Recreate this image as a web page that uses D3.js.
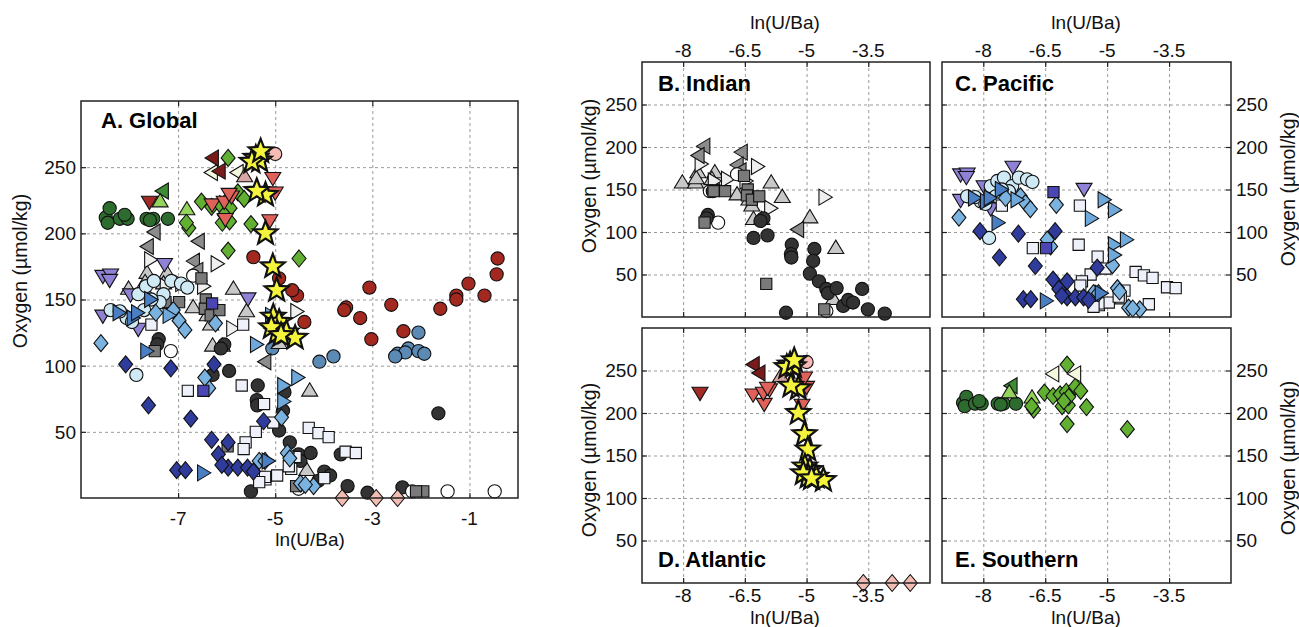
<!DOCTYPE html>
<html>
<head>
<meta charset="utf-8">
<script src="https://cdn.jsdelivr.net/npm/d3@7"></script>
<style>
  body { margin: 0; background: #fff; }
  svg { font-family: "Liberation Sans", Arial, Helvetica, sans-serif; }
  .grid line { stroke: #9a9a9a; stroke-dasharray: 3,3; }
  .grid path { display: none; }
</style>
</head>
<body>
<div id="chart"></div>
<script>
// Tick values
const xTicksGlobal = [-7, -5, -3, -1]
const xTicksBasin = [-8, -6.5, -5, -3.5]
const yTicks = [50, 100, 150, 200, 250]

// Indian ocean (panel B)
const indianDark = [[-7.40,120],[-7.43,116],[-6.29,93],[-5.95,96],[-6.05,116],[-6.12,113],[-5.36,85],[-5.38,74],[-5.37,70],
  [-4.81,80],[-4.84,66],[-4.92,51],[-4.70,42],[-4.52,33],[-4.48,28],[-4.27,34],[-4.11,13],[-3.99,20],[-3.87,17],
  [-3.65,33],[-3.51,9],[-5.50,5],[-3.10,4],[-7.28,148]]
const indianGrayLeft = [[-7.48,201],[-7.62,190],[-6.57,194],[-6.67,179],[-6.60,172],[-5.20,103]]
const indianGrayUp = [[-8.02,158],[-7.70,158],[-7.64,170],[-7.23,170],[-7.68,163],[-6.69,144],[-6.57,168],[-6.33,131],
  [-6.40,138],[-6.29,115],[-6.09,115],[-5.86,158],[-5.59,141],[-4.92,117],[-4.29,81],[-4.35,21],[-7.30,162]]
const indianWhiteRight = [[-6.21,177],[-4.57,141],[-5.89,128],[-6.94,162],[-7.58,180],[-6.49,160],[-7.26,160]]
const indianGraySquares = [[-7.26,148],[-6.98,148],[-6.43,150],[-6.45,143],[-6.33,138],[-6.15,142],[-7.48,111],
  [-5.98,39],[-4.57,9],[-6.52,166]]
const indianWhiteCircles = [[-7.15,111],[-4.52,7],[-6.69,168],[-7.35,148]]

// Pacific ocean (panel C)
const pacificPurpleDown = [[-8.55,168],[-8.39,169],[-8.41,165],[-7.28,177],[-5.56,151],[-8.55,138],[-7.98,154],[-7.82,128]]
const pacificCyanCircles = [[-8.39,142],[-8.06,136],[-7.82,154],[-7.66,160],[-7.50,164],[-7.30,154],[-7.14,164],[-6.94,162],
  [-6.81,159],[-7.86,93],[-7.70,142],[-7.38,148],[-8.20,141],[-7.55,150],[-7.95,133]]
const pacificBlueRight = [[-8.23,140],[-7.94,136],[-7.58,150],[-7.66,111],[-6.49,19],[-5.16,28],[-7.85,140]]
const pacificLightRight = [[-5.09,138],[-4.84,126],[-5.40,116],[-4.84,85],[-4.55,91],[-4.84,73],[-7.20,138]]
const pacificLightDiamonds = [[-8.59,117],[-7.46,140],[-7.10,142],[-6.98,134],[-6.86,127],[-6.23,132],[-6.37,83],[-6.45,91],
  [-4.87,61],[-4.75,34],[-4.48,11],[-4.21,9],[-5.33,28],[-5.21,28],[-4.70,30],[-4.38,10]]
const pacificDarkDiamonds = [[-8.08,101],[-7.61,70],[-7.15,98],[-6.74,60],[-6.26,101],[-6.31,44],[-5.97,42],[-6.17,33],
  [-7.03,21],[-6.85,21],[-5.97,23],[-5.77,23],[-5.57,23],[-5.24,58],[-6.10,25],[-5.45,20]]
const pacificDarkSquares = [[-6.30,147],[-6.48,81]]
const pacificWhiteSquares = [[-5.66,131],[-6.80,81],[-5.69,85],[-5.23,71],[-5.04,57],[-5.40,50],[-5.61,42],[-5.65,37],
  [-4.58,31],[-4.31,53],[-4.11,49],[-3.90,46],[-3.55,35],[-3.34,34],[-3.99,15],[-5.32,16],[-5.20,14],[-4.96,17],
  [-4.67,22],[-5.21,16],[-5.33,12],[-4.72,24],[-7.55,131]]

// Atlantic ocean (panel D)
const atlanticDarkRedLeft = [[-6.28,257],[-6.14,247]]
const atlanticDarkRedDown = [[-7.59,224]]
const atlanticSalmonDown = [[-6.30,222],[-6.03,211],[-6.05,224],[-5.90,228],[-5.14,231],[-5.11,210],[-5.00,231],[-5.05,242],[-5.95,230]]
const atlanticPinkCircle = [[-5.00,260]]
const atlanticPinkUp = [[-5.63,243]]
const atlanticPinkDiamonds = [[-3.62,0],[-2.92,0],[-2.48,0]]
const atlanticStars = [[-5.40,257],[-5.32,255],[-5.48,254],[-5.30,262],[-5.20,229],[-5.38,232],[-5.20,200],[-5.05,175],
  [-4.97,157],[-5.04,137],[-4.92,133],[-4.96,125],[-4.77,125],[-4.59,121],[-5.08,129],[-4.88,123]]

// Southern ocean (panel E)
const southernDarkGreen = [[-8.49,212],[-8.41,219],[-8.45,208],[-8.20,211],[-8.04,211],[-7.65,211],[-7.51,211],[-7.21,211],[-8.10,214],[-7.58,210]]
const southernGreenLeft = [[-7.31,232]]
const southernLightGreenUp = [[-7.37,224],[-6.82,218]]
const southernGreenDiamonds = [[-5.97,257],[-6.52,224],[-6.31,220],[-6.14,222],[-5.99,225],[-5.77,231],[-5.64,226],[-6.09,208],
  [-5.94,209],[-5.50,207],[-5.97,187],[-4.51,181],[-6.78,204],[-6.83,208],[-5.93,219],[-6.05,214]]
const southernCreamLeft = [[-6.30,246],[-5.77,246]]

// Only in the global panel
const otherDarkRed = [[-3.06,159],[-1.02,162],[-0.44,169],[-0.42,181],[-1.27,153],[-0.69,153],[-4.55,153],[-1.27,150],
  [-3.54,144],[-3.58,142],[-2.61,146],[-1.60,143],[-3.25,136],[-4.40,133],[-3.02,120],[-2.36,126],[-5.45,182],[-4.92,166],[-4.65,157]]
const otherSteelBlue = [[-2.05,125],[-2.26,113],[-2.48,109],[-2.32,110],[-2.05,111],[-1.93,109],[-2.53,107],[-3.80,107],[-4.09,103],[-5.06,113]]
const otherDark = [[-1.64,64],[-2.38,8]]
const otherGraySquares = [[-1.95,5],[-2.10,5]]
const otherWhiteCircles = [[-2.18,5],[-1.45,5],[-0.48,5]]

// Series table: data + basin + marker style
const series = [
  {data: otherSteelBlue, basin: null, shape: "circle", fill: "#5b8ab5"},
  {data: otherDarkRed, basin: null, shape: "circle", fill: "#a3281f"},
  {data: otherDark, basin: null, shape: "circle", fill: "#333333"},
  {data: otherWhiteCircles, basin: null, shape: "circle", fill: "#ffffff"},
  {data: otherGraySquares, basin: null, shape: "square", fill: "#7a7a7a"},
  {data: southernDarkGreen, basin: "E", shape: "circle", fill: "#2e6b2e"},
  {data: southernGreenLeft, basin: "E", shape: "left", fill: "#3d8d35"},
  {data: southernLightGreenUp, basin: "E", shape: "up", fill: "#95d45c"},
  {data: southernGreenDiamonds, basin: "E", shape: "diamond", fill: "#62b032"},
  {data: southernCreamLeft, basin: "E", shape: "left", fill: "#f3f8df"},
  {data: indianGrayUp, basin: "B", shape: "up", fill: "#c8c8c8"},
  {data: indianWhiteRight, basin: "B", shape: "right", fill: "#efefef"},
  {data: indianGrayLeft, basin: "B", shape: "left", fill: "#8c8c8c"},
  {data: indianWhiteCircles, basin: "B", shape: "circle", fill: "#ffffff"},
  {data: indianDark, basin: "B", shape: "circle", fill: "#333333"},
  {data: indianGraySquares, basin: "B", shape: "square", fill: "#7a7a7a"},
  {data: pacificPurpleDown, basin: "C", shape: "down", fill: "#8f82d6"},
  {data: pacificCyanCircles, basin: "C", shape: "circle", fill: "#cfe9f5"},
  {data: pacificWhiteSquares, basin: "C", shape: "square", fill: "#eef1fa"},
  {data: pacificLightDiamonds, basin: "C", shape: "diamond", fill: "#7ab2e0"},
  {data: pacificBlueRight, basin: "C", shape: "right", fill: "#4a7fc4"},
  {data: pacificLightRight, basin: "C", shape: "right", fill: "#6fa9dc"},
  {data: pacificDarkDiamonds, basin: "C", shape: "diamond", fill: "#2f3c9c"},
  {data: pacificDarkSquares, basin: "C", shape: "square", fill: "#4b46b4"},
  {data: atlanticPinkDiamonds, basin: "D", shape: "diamond", fill: "#f3bcb3"},
  {data: atlanticDarkRedDown, basin: "D", shape: "down", fill: "#a32b26"},
  {data: atlanticDarkRedLeft, basin: "D", shape: "left", fill: "#7a1b1b"},
  {data: atlanticSalmonDown, basin: "D", shape: "down", fill: "#e0605a"},
  {data: atlanticPinkUp, basin: "D", shape: "up", fill: "#d8a7a3"},
  {data: atlanticPinkCircle, basin: "D", shape: "circle", fill: "#f5bbb4"},
  {data: atlanticStars, basin: "D", shape: "star", fill: "#f4f43c"},
]

// Panel layout
const panels = [
  {id: "A", title: "A. Global", x0: 81, x1: 518, y0: 101, y1: 498, xDomain: [-9, 0], xTicks: xTicksGlobal,
   yLabelSide: "left", titleX: 101, titleY: 128,
   tickLabelY: 525, axisTitleY: 546, axisTitleX: 310, yTitleX: 20, yTitleY: 271},
  {id: "B", title: "B. Indian", x0: 642, x1: 930, y0: 62, y1: 317, xDomain: [-9, -2], xTicks: xTicksBasin,
   yLabelSide: "left", titleX: 658, titleY: 91,
   tickLabelY: 57, axisTitleY: 29, axisTitleX: 785, yTitleX: 589, yTitleY: 176},
  {id: "C", title: "C. Pacific", x0: 942, x1: 1231, y0: 62, y1: 317, xDomain: [-9, -2], xTicks: xTicksBasin,
   yLabelSide: "right", titleX: 955, titleY: 91,
   tickLabelY: 57, axisTitleY: 29, axisTitleX: 1086, yTitleX: 1288, yTitleY: 189},
  {id: "D", title: "D. Atlantic", x0: 642, x1: 930, y0: 328, y1: 583, xDomain: [-9, -2], xTicks: xTicksBasin,
   yLabelSide: "left", titleX: 658, titleY: 567,
   tickLabelY: 602, axisTitleY: 624, axisTitleX: 785, yTitleX: 589, yTitleY: 460},
  {id: "E", title: "E. Southern", x0: 942, x1: 1231, y0: 328, y1: 583, xDomain: [-9, -2], xTicks: xTicksBasin,
   yLabelSide: "right", titleX: 955, titleY: 567,
   tickLabelY: 602, axisTitleY: 624, axisTitleX: 1086, yTitleX: 1288, yTitleY: 458},
]

function markerPath(shape) {
  let p = d3.path()
  switch(shape) {
    case "circle":
      p.arc(0, 0, 6.6, 0, 2 * Math.PI); break
    case "square":
      p.rect(-5.6, -5.6, 11.2, 11.2); break
    case "diamond":
      p.moveTo(0, -8.5); p.lineTo(7, 0); p.lineTo(0, 8.5); p.lineTo(-7, 0); p.closePath(); break
    case "up":
      p.moveTo(0, -8); p.lineTo(8, 5.3); p.lineTo(-8, 5.3); p.closePath(); break
    case "down":
      p.moveTo(0, 8); p.lineTo(8, -5.3); p.lineTo(-8, -5.3); p.closePath(); break
    case "left":
      p.moveTo(-8, 0); p.lineTo(5.3, -8); p.lineTo(5.3, 8); p.closePath(); break
    case "right":
      p.moveTo(8, 0); p.lineTo(-5.3, -8); p.lineTo(-5.3, 8); p.closePath(); break
    case "star":
      for(let i = 0; i < 10; i++) {
        let r = i % 2 == 0 ? 12.5 : 5.3
        let a = -Math.PI / 2 + i * Math.PI / 5
        if(i == 0) p.moveTo(r * Math.cos(a), r * Math.sin(a))
        else p.lineTo(r * Math.cos(a), r * Math.sin(a))
      }
      p.closePath(); break
  }
  return p.toString()
}

const svg = d3.select("#chart").append("svg")
  .attr("width", 1299)
  .attr("height", 627)

panels.forEach(function(cfg) {
  let x = d3.scaleLinear().domain(cfg.xDomain).range([cfg.x0, cfg.x1])
  let y = d3.scaleLinear().domain([0, 300]).range([cfg.y1, cfg.y0])
  let w = cfg.x1 - cfg.x0
  let h = cfg.y1 - cfg.y0
  let g = svg.append("g").attr("class", "panel-" + cfg.id)

  // Dashed grid
  g.append("g").attr("class", "grid")
    .attr("transform", "translate(0," + cfg.y1 + ")")
    .call(d3.axisBottom(x).tickValues(cfg.xTicks).tickSize(-h).tickFormat(""))
  g.append("g").attr("class", "grid")
    .attr("transform", "translate(" + cfg.x0 + ",0)")
    .call(d3.axisLeft(y).tickValues(yTicks).tickSize(-w).tickFormat(""))

  // Inward ticks on all four sides
  let tickStyle = function(sel) {
    sel.select(".domain").remove()
    sel.selectAll("line").attr("stroke", "#222").attr("stroke-width", 1.2)
  }
  g.append("g").attr("transform", "translate(0," + cfg.y1 + ")")
    .call(d3.axisBottom(x).tickValues(cfg.xTicks).tickSize(-5).tickFormat("")).call(tickStyle)
  g.append("g").attr("transform", "translate(0," + cfg.y0 + ")")
    .call(d3.axisTop(x).tickValues(cfg.xTicks).tickSize(-5).tickFormat("")).call(tickStyle)
  g.append("g").attr("transform", "translate(" + cfg.x0 + ",0)")
    .call(d3.axisLeft(y).tickValues(yTicks).tickSize(-5).tickFormat("")).call(tickStyle)
  g.append("g").attr("transform", "translate(" + cfg.x1 + ",0)")
    .call(d3.axisRight(y).tickValues(yTicks).tickSize(-5).tickFormat("")).call(tickStyle)

  // Markers
  let shown = series.filter(function(s) { return cfg.id == "A" ? true : s.basin == cfg.id })
  shown.forEach(function(s) {
    g.append("g").selectAll("path").data(s.data).enter().append("path")
      .attr("d", markerPath(s.shape))
      .attr("transform", function(d) { return "translate(" + x(d[0]) + "," + y(d[1]) + ")" })
      .attr("fill", s.fill)
      .attr("stroke", "#111")
      .attr("stroke-width", s.shape == "star" ? 2.2 : 1.1)
      .attr("stroke-linejoin", "miter")
  })

  // Frame
  g.append("rect")
    .attr("x", cfg.x0).attr("y", cfg.y0).attr("width", w).attr("height", h)
    .attr("fill", "none").attr("stroke", "#222").attr("stroke-width", 1.5)

  // Tick labels
  g.selectAll("text.xtick").data(cfg.xTicks).enter().append("text")
    .attr("class", "xtick")
    .attr("x", function(d) { return x(d) })
    .attr("y", cfg.tickLabelY)
    .attr("text-anchor", "middle")
    .attr("font-size", 19)
    .attr("fill", "#111")
    .text(function(d) { return String(d) })

  let left = cfg.yLabelSide == "left"
  g.selectAll("text.ytick").data(yTicks).enter().append("text")
    .attr("class", "ytick")
    .attr("x", left ? cfg.x0 - 5 : cfg.x1 + 5)
    .attr("y", function(d) { return y(d) })
    .attr("dy", "0.36em")
    .attr("text-anchor", left ? "end" : "start")
    .attr("font-size", 19)
    .attr("fill", "#111")
    .text(function(d) { return String(d) })

  // Axis titles
  g.append("text")
    .attr("x", cfg.axisTitleX).attr("y", cfg.axisTitleY)
    .attr("text-anchor", "middle")
    .attr("font-size", 19)
    .attr("fill", "#111")
    .text("ln(U/Ba)")
  g.append("text")
    .attr("transform", "translate(" + cfg.yTitleX + "," + cfg.yTitleY + ") rotate(-90)")
    .attr("dy", "0.36em")
    .attr("text-anchor", "middle")
    .attr("font-size", 19.5)
    .attr("fill", "#111")
    .text("Oxygen (\u00b5mol/kg)")

  // Panel title
  g.append("text")
    .attr("x", cfg.titleX).attr("y", cfg.titleY)
    .attr("font-size", 22)
    .attr("font-weight", "bold")
    .attr("fill", "#000")
    .text(cfg.title)
})
</script>
</body>
</html>
